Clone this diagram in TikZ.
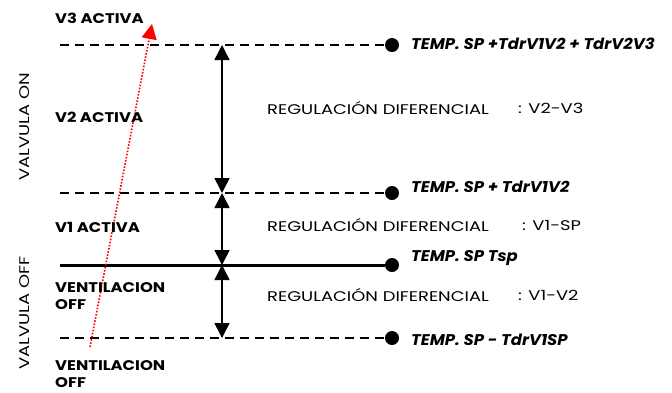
\documentclass[tikz,border=0pt]{standalone}
\usepackage{fontspec}
\setmainfont{Poppins}
\newfontfamily\regf[FakeStretch=1.28]{Poppins}
\newfontfamily\boldf[FakeStretch=1.17]{Poppins}
\newfontfamily\itf[FakeStretch=1.06]{Poppins}
\usetikzlibrary{arrows.meta}
\begin{document}
\begin{tikzpicture}[x=1pt,y=-1pt,
  lvl/.style={line width=1.5pt,dash pattern=on 9pt off 6pt},
  solidlvl/.style={line width=3pt},
  dotnode/.style={circle,fill=black,inner sep=0pt,minimum size=14pt},
  lab/.style={font=\boldf\fontsize{14}{16.5}\selectfont\bfseries,anchor=west,align=left,inner sep=0pt},
  rlab/.style={font=\itf\fontsize{15.5}{17}\selectfont\bfseries\itshape,anchor=west,inner sep=0pt},
  reg/.style={font=\regf\fontsize{14}{16}\selectfont,anchor=west,inner sep=0pt},
  vlab/.style={font=\regf\fontsize{14}{16}\selectfont,rotate=90,inner sep=0pt},
  dim/.style={line width=1.5pt,{Triangle[width=15pt,length=15pt]}-{Triangle[width=15pt,length=15pt]}}
]
\useasboundingbox (0,0) rectangle (672,392);
% levels
\coordinate (l1) at (60,45);
\node[dotnode] (d1) at (392,45) {};
\coordinate (l2) at (60,193);
\node[dotnode] (d2) at (392,193) {};
\coordinate (l3) at (60,265);
\node[dotnode] (d3) at (392,265) {};
\coordinate (l4) at (60,338);
\node[dotnode] (d4) at (392,338) {};
\draw[lvl] (l1) -- (d1);
\draw[lvl] (l2) -- (d2);
\draw[solidlvl] (l3) -- (d3);
\draw[lvl] (l4) -- (d4);
% dimension arrows
\coordinate (a1) at (222,45);
\coordinate (a2) at (222,193);
\coordinate (a3) at (222,265);
\coordinate (a4) at (222,338);
\draw[dim] (a1) -- (a2);
\draw[dim] (a2) -- (a3);
\draw[dim] (a3) -- (a4);
% red dotted arrow
\coordinate (r0) at (90,347);
\coordinate (r1) at (152,24);
\draw[red,line width=1.6pt,dash pattern=on 1.6pt off 1.6pt,-{Triangle[width=15pt,length=15pt]}] (r0) -- (r1);
% left labels
\node[lab] (v3) at (55,18) {V3 ACTIVA};
\node[lab] (v2) at (55,117) {V2 ACTIVA};
\node[lab] (v1) at (55,227) {V1 ACTIVA};
\node[lab] (vo1) at (55,296) {VENTILACION\\OFF};
\node[lab] (vo2) at (55,374) {VENTILACION\\OFF};
\node[vlab] (von) at (25,127) {VALVULA ON};
\node[vlab] (voff) at (25,313) {VALVULA OFF};
% right labels
\node[rlab] (t1) at (411,44) {TEMP. SP +TdrV1V2 + TdrV2V3};
\node[rlab] (t2) at (411,187) {TEMP. SP + TdrV1V2};
\node[rlab] (t3) at (411,258) {TEMP. SP Tsp};
\node[rlab] (t4) at (411,340) {TEMP. SP - TdrV1SP};
% regulation labels
\node[reg] (g1) at (267,108) {REGULACIÓN DIFERENCIAL};
\node[reg] (g1b) at (518,108) {: V2-V3};
\node[reg] (g2) at (267,225) {REGULACIÓN DIFERENCIAL};
\node[reg] (g2b) at (522,225) {: V1-SP};
\node[reg] (g3) at (267,295) {REGULACIÓN DIFERENCIAL};
\node[reg] (g3b) at (518,295) {: V1-V2};
\end{tikzpicture}
\end{document}
